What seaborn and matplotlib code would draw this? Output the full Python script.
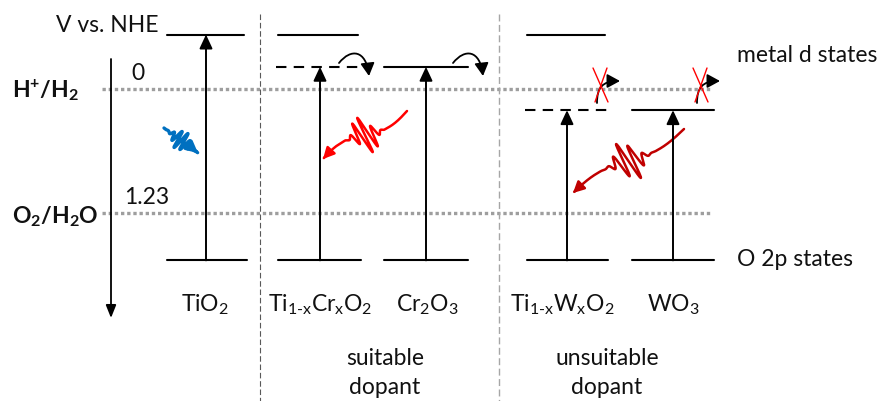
import numpy as np
import pandas as pd
import matplotlib
matplotlib.use("Agg")
import matplotlib.pyplot as plt
import seaborn as sns
from matplotlib.patches import FancyArrowPatch
from matplotlib.path import Path

# ---------------- band-alignment data (V vs. NHE) ----------------
materials = ["TiO$_2$", r"Ti$_{1\text{-}x}$Cr$_x$O$_2$", "Cr$_2$O$_3$",
             r"Ti$_{1\text{-}x}$W$_x$O$_2$", "WO$_3$"]
host_cb = [-0.54, -0.54, np.nan, -0.54, np.nan]      # TiO2 conduction band
d_level = [-0.54, -0.22, -0.22, 0.21, 0.21]          # lowest metal d level
d_is_dopant = [False, True, False, True, False]      # dashed = dopant level
o2p_level = [1.70, 1.70, 1.70, 1.70, 1.70]           # O 2p valence band top
redox_potentials = [0.0, 1.23]
redox_couples = [r"$\mathbf{H^{+}/H_{2}}$", r"$\mathbf{O_{2}/H_{2}O}$"]
redox_values = ["0", "1.23"]
group_names = [("suitable", "dopant"), ("unsuitable", "dopant")]

# ---------------- layout ----------------
W, H = 889, 401
PX_PER_V = 100.8          # vertical scale of the energy axis
ZERO_ROW = 89             # pixel row of 0 V
col_left = [167, 278, 384, 527, 632]
col_right = [247, 361, 468, 608, 714]
col_arrow = [206, 320, 426, 567, 673]
col_label = [205, 320, 427, 562, 673]


def E(row):
    """Energy (V) of a pixel row of the canvas."""
    return (row - ZERO_ROW) / PX_PER_V


sns.set_theme(style="white")
plt.rcParams["font.family"] = ["Lato", "DejaVu Sans"]
plt.rcParams["mathtext.fontset"] = "custom"
plt.rcParams["mathtext.rm"] = "Lato"
plt.rcParams["mathtext.it"] = "Lato:italic"
plt.rcParams["mathtext.bf"] = "Lato:bold"
plt.rcParams["mathtext.default"] = "rm"
plt.rcParams["text.color"] = "#111111"

fig = plt.figure(figsize=(W / 100, H / 100), dpi=100)
ax = fig.add_axes([0, 0, 1, 1])

FS = 16.5
LW = 1.5
GREY = "#9E9E9E"

# redox potential dotted lines
for pot in redox_potentials:
    ax.plot([102, 712], [pot, pot], color=GREY, lw=2.4,
            linestyle=(0, (1.0, 0.85)), dash_capstyle="butt", zorder=1)

# column separators
ax.plot([260, 260], [E(14), E(H)], color="#595959", lw=0.8, linestyle=(0, (5, 2.5)))
ax.plot([499, 499], [E(14), E(H)], color="#A6A6A6", lw=1.0, linestyle=(0, (5, 2.5)))

# level segments
rows = []
for i, (cb, dl, dop, vb) in enumerate(zip(host_cb, d_level, d_is_dopant, o2p_level)):
    if not np.isnan(cb):
        rows.append(dict(seg=f"cb{i}", x=col_left[i], y=cb, kind="solid"))
        rows.append(dict(seg=f"cb{i}", x=col_right[i] - 3, y=cb, kind="solid"))
    if dl != cb:
        kind = "dashed" if dop else "solid"
        rows.append(dict(seg=f"d{i}", x=col_left[i] - (2 if dop else 0), y=dl, kind=kind))
        rows.append(dict(seg=f"d{i}", x=col_right[i], y=dl, kind=kind))
    rows.append(dict(seg=f"vb{i}", x=col_left[i], y=vb, kind="solid"))
    rows.append(dict(seg=f"vb{i}", x=col_right[i], y=vb, kind="solid"))
levels = pd.DataFrame(rows)

sns.lineplot(data=levels[levels.kind == "solid"], x="x", y="y", units="seg",
             estimator=None, color="black", lw=LW, ax=ax, legend=False)
sns.lineplot(data=levels[levels.kind == "dashed"], x="x", y="y", units="seg",
             estimator=None, color="black", lw=LW, ax=ax, legend=False,
             linestyle=(0, (5, 3.5)))
ax.set_xlim(0, W)
ax.set_ylim(E(H), E(0))
ax.axis("off")

# energy axis arrow
ax.annotate("", xy=(111, E(318)), xytext=(111, E(59)),
            arrowprops=dict(arrowstyle="-|>,head_length=0.55,head_width=0.22",
                            color="black", lw=1.3, mutation_scale=14,
                            shrinkA=0, shrinkB=0))

# excitation arrows O 2p -> lowest d level
for i in range(len(materials)):
    ax.annotate("", xy=(col_arrow[i], d_level[i]), xytext=(col_arrow[i], o2p_level[i]),
                arrowprops=dict(arrowstyle="-|>,head_length=0.6,head_width=0.28",
                                color="black", lw=1.4, mutation_scale=14,
                                shrinkA=0, shrinkB=0))


def bezier_arrow(pts, color="black", lw=1.3):
    verts = [(x, E(r)) for x, r in pts]
    path = Path(verts, [Path.MOVETO, Path.CURVE4, Path.CURVE4, Path.CURVE4])
    arr = FancyArrowPatch(path=path, arrowstyle="-|>,head_length=0.55,head_width=0.3",
                          mutation_scale=14, color=color, lw=lw,
                          transform=ax.transData)
    ax.add_patch(arr)


# electron transfer to H+/H2: allowed from Cr levels
for x0 in (339, 453):
    bezier_arrow([(x0, 63), (x0 + 12, 48), (x0 + 27, 50), (x0 + 30, 76)])

# blocked transfer from W levels
for x0 in (597, 697):
    bezier_arrow([(x0, 103), (x0, 88), (x0 + 5, 81), (x0 + 23, 81)])
    ax.plot([x0 - 4, x0 + 11], [E(68), E(102)], color="#FF0000", lw=1.0)
    ax.plot([x0 + 10, x0 - 2], [E(68), E(102)], color="#FF0000", lw=1.0)


def photon(tail, head, amp, cycles, width, color, bend=0.0, lw=1.8):
    p0 = np.array([tail[0], tail[1] - ZERO_ROW], float)
    p1 = np.array([head[0], head[1] - ZERO_ROW], float)
    t = np.linspace(0, 1, 800)
    d = p1 - p0
    u = d / np.hypot(*d)
    n = np.array([-u[1], u[0]])
    env = np.exp(-((t - 0.5) / width) ** 2)
    off = amp * env * np.sin(2 * np.pi * cycles * t) + bend * np.sin(2 * np.pi * t)
    pts = p0[None, :] + t[:, None] * d[None, :] + off[:, None] * n[None, :]
    xs, ys = pts[:, 0], pts[:, 1] / PX_PER_V
    ax.plot(xs[:-10], ys[:-10], color=color, lw=lw, solid_capstyle="round")
    ax.annotate("", xy=(xs[-1], ys[-1]), xytext=(xs[-40], ys[-40]),
                arrowprops=dict(arrowstyle="-|>,head_length=0.55,head_width=0.28",
                                color=color, lw=lw, mutation_scale=12,
                                shrinkA=0, shrinkB=0))


photon((164, 128), (198, 153), amp=10, cycles=7, width=0.22, color="#0070C0", lw=2.4)
photon((407, 111), (323, 159), amp=20, cycles=13, width=0.1, color="#FF0000", bend=-5)
photon((684, 129), (573, 193), amp=21, cycles=14, width=0.095, color="#C00000", bend=-5)

# texts
ax.text(158, E(25), "V vs. NHE", ha="right", va="center", fontsize=FS)
ax.text(138, E(73), redox_values[0], ha="center", va="center", fontsize=FS)
ax.text(147, E(197), redox_values[1], ha="center", va="center", fontsize=FS)
ax.text(12, E(90), redox_couples[0], ha="left", va="center", fontsize=FS)
ax.text(12, E(217), redox_couples[1], ha="left", va="center", fontsize=FS)
ax.text(737, E(55), "metal d states", ha="left", va="center", fontsize=FS)
ax.text(737, E(260), "O 2p states", ha="left", va="center", fontsize=FS)
for i, name in enumerate(materials):
    ax.text(col_label[i], E(305), name, ha="center", va="center", fontsize=FS)
for xc, (line1, line2) in zip((385, 607), group_names):
    ax.text(xc, E(358), line1, ha="center", va="center", fontsize=FS)
    ax.text(xc, E(387), line2, ha="center", va="center", fontsize=FS)

fig.savefig("out.png", dpi=100)
